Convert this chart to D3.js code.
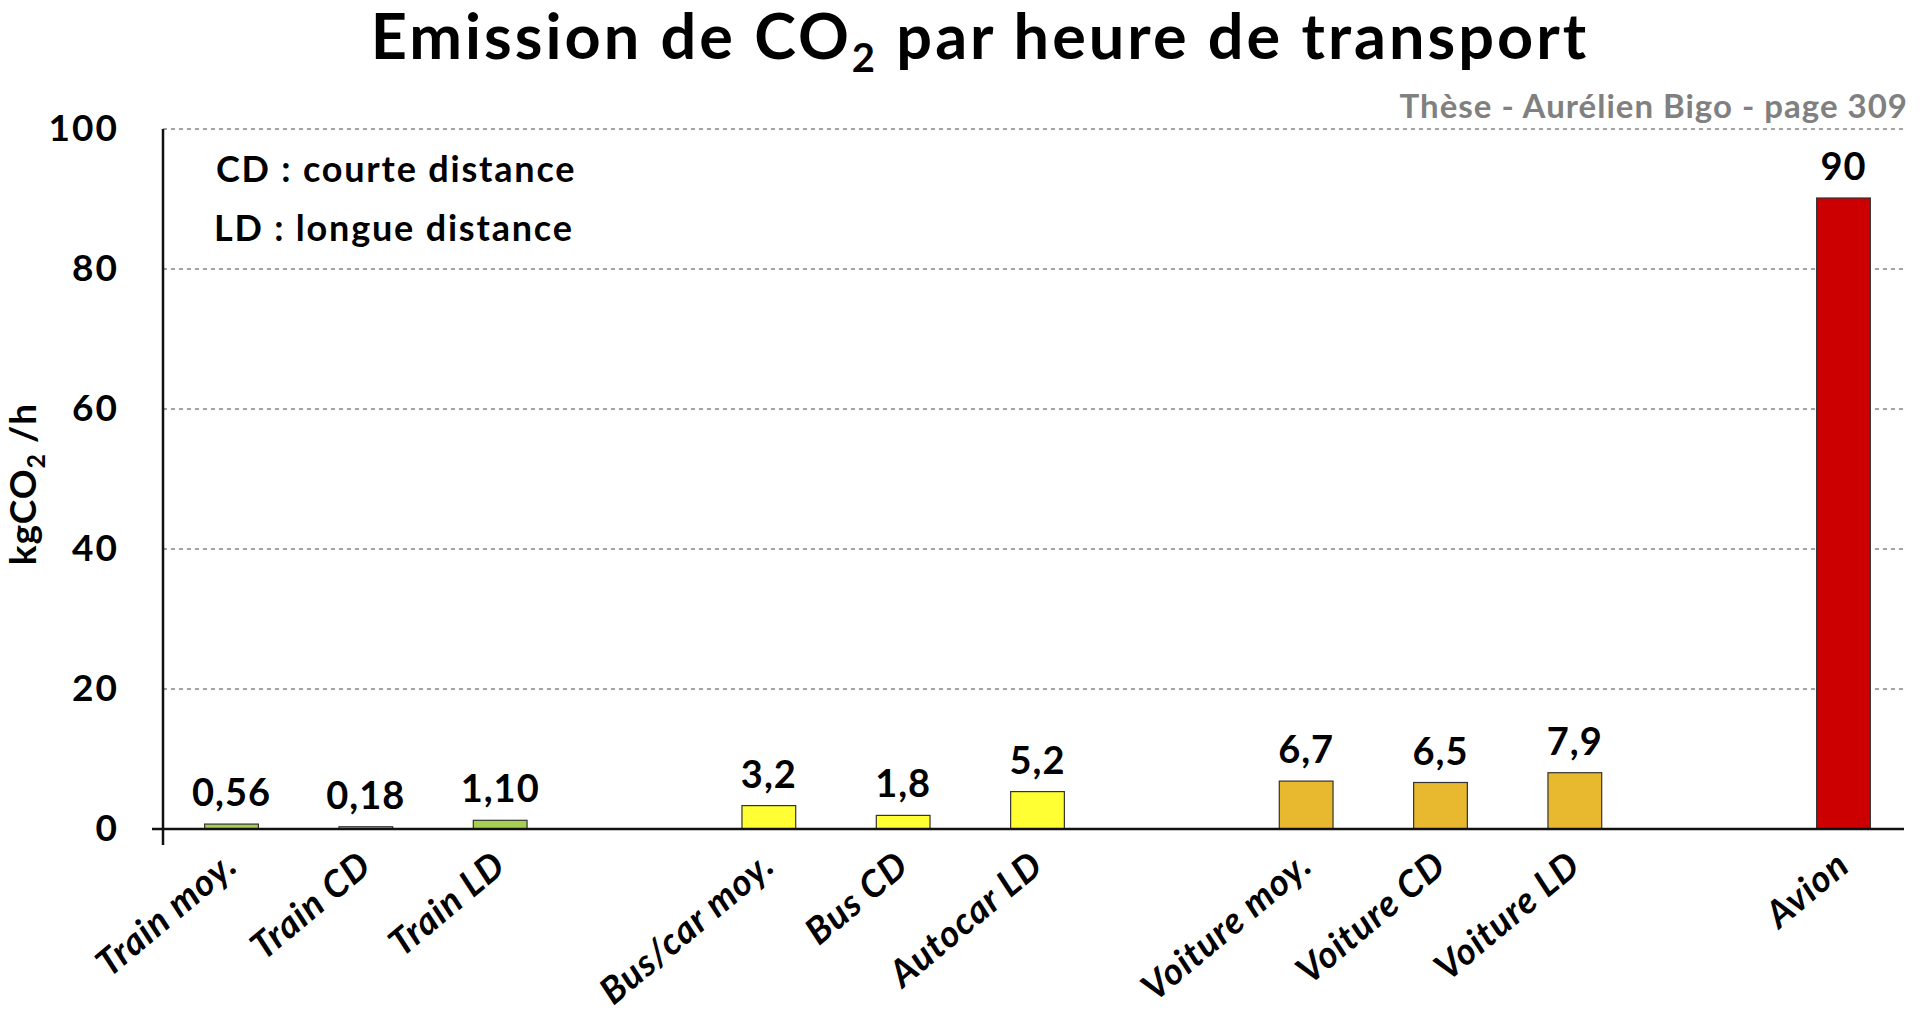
<!DOCTYPE html>
<html>
<head>
<meta charset="utf-8">
<script src="https://cdn.jsdelivr.net/npm/d3@7"></script>
<style>
  body { margin: 0; background: #fff; }
  text { font-family: Lato, "Open Sans", sans-serif; font-weight: 700; }
</style>
</head>
<body>
<div id="chart"></div>
<script>
// data
var categories = ["Train moy.", "Train CD", "Train LD", "Bus/car moy.", "Bus CD", "Autocar LD",
                  "Voiture moy.", "Voiture CD", "Voiture LD", "Avion"];
var values = [0.56, 0.18, 1.10, 3.2, 1.8, 5.2, 6.7, 6.5, 7.9, 90];
var valueLabels = ["0,56", "0,18", "1,10", "3,2", "1,8", "5,2", "6,7", "6,5", "7,9", "90"];
var groups = ["train", "train", "train", "bus", "bus", "bus", "voiture", "voiture", "voiture", "avion"];
// slot of each bar, empty slots between groups
var slots = [0, 1, 2, 4, 5, 6, 8, 9, 10, 12];
var yTicks = [0, 20, 40, 60, 80, 100];

var colors = { train: "#a6d04f", bus: "#ffff33", voiture: "#e8b92e", avion: "#cc0000" };

var W = 1920, H = 1015;
var mLeft = 163, mRight = 1904, mTop = 129, mBottom = 829;

var svg = d3.select("#chart").append("svg")
  .attr("width", W).attr("height", H);

var x = d3.scaleBand()
  .domain(d3.range(13))
  .range([mLeft, 1912])
  .paddingInner(0.6)
  .paddingOuter(0.31);

var y = d3.scaleLinear().domain([0, 100]).range([mBottom, mTop]);

// title
var title = svg.append("text")
  .attr("x", 980).attr("y", 59)
  .attr("text-anchor", "middle")
  .style("font-size", "63px")
  .style("letter-spacing", "3px");
title.append("tspan").text("Emission de CO");
title.append("tspan").text("2").attr("dy", 13).style("font-size", "40px");
title.append("tspan").text(" par heure de transport").attr("dy", -13);

svg.append("text")
  .attr("x", 1908).attr("y", 118)
  .attr("text-anchor", "end")
  .attr("fill", "#808080")
  .style("font-size", "33px")
  .style("letter-spacing", "1px")
  .text("Thèse - Aurélien Bigo - page 309");

// grid
svg.append("g")
  .selectAll("line")
  .data(yTicks.filter(d => d > 0))
  .join("line")
  .attr("x1", mLeft).attr("x2", mRight)
  .attr("y1", d => y(d)).attr("y2", d => y(d))
  .attr("stroke", "#444")
  .attr("stroke-width", 1)
  .attr("stroke-dasharray", "4,4");

// y axis
var yAxis = svg.append("g")
  .attr("transform", "translate(" + mLeft + ",0)")
  .call(d3.axisLeft(y).tickValues(yTicks).tickSize(0).tickPadding(44));
yAxis.select(".domain").remove();
yAxis.selectAll("text")
  .style("font-size", "37px")
  .style("letter-spacing", "2px")
  .attr("fill", "#000")
  .style("font-family", "Lato, sans-serif")
  .style("font-weight", 700);

svg.append("line")
  .attr("x1", mLeft).attr("x2", mLeft)
  .attr("y1", mTop).attr("y2", mBottom + 16)
  .attr("stroke", "#111").attr("stroke-width", 2.5);

// y title
var yt = svg.append("text")
  .attr("transform", "translate(36,484) rotate(-90)")
  .attr("text-anchor", "middle")
  .style("font-size", "37px")
  .style("letter-spacing", "1px");
yt.append("tspan").text("kgCO");
yt.append("tspan").text("2").attr("dy", 9).style("font-size", "25px");
yt.append("tspan").text(" /h").attr("dy", -9);

// notes
svg.append("text").attr("x", 216).attr("y", 182)
  .style("font-size", "36px").style("letter-spacing", "1.8px").text("CD : courte distance");
svg.append("text").attr("x", 214).attr("y", 241)
  .style("font-size", "36px").style("letter-spacing", "1.8px").text("LD : longue distance");

// bars
var data = categories.map((c, i) => ({ cat: c, v: values[i], lab: valueLabels[i], g: groups[i], s: slots[i] }));

svg.append("g")
  .selectAll("rect")
  .data(data)
  .join("rect")
  .attr("x", d => x(d.s))
  .attr("width", x.bandwidth())
  .attr("y", d => y(d.v) - 1)
  .attr("height", d => y(0) - y(d.v) + 1)
  .attr("fill", d => colors[d.g])
  .attr("stroke", "#333")
  .attr("stroke-width", 1.2);

svg.append("g")
  .selectAll("text")
  .data(data)
  .join("text")
  .attr("x", d => x(d.s) + x.bandwidth() / 2)
  .attr("y", d => y(d.v) - 19)
  .attr("text-anchor", "middle")
  .style("font-size", "38px")
  .style("letter-spacing", "1px")
  .text(d => d.lab);

// x axis line
svg.append("line")
  .attr("x1", mLeft - 11).attr("x2", mRight)
  .attr("y1", mBottom).attr("y2", mBottom)
  .attr("stroke", "#111").attr("stroke-width", 2.5);

// category labels
svg.append("g")
  .selectAll("text")
  .data(data)
  .join("text")
  .attr("transform", d => "translate(" + (x(d.s) + x.bandwidth() / 2 + 8) + "," + (mBottom + 40) + ") rotate(-40)")
  .attr("text-anchor", "end")
  .style("font-size", "37px")
  .style("letter-spacing", "1px")
  .style("font-style", "italic")
  .text(d => d.cat);
</script>
</body>
</html>
